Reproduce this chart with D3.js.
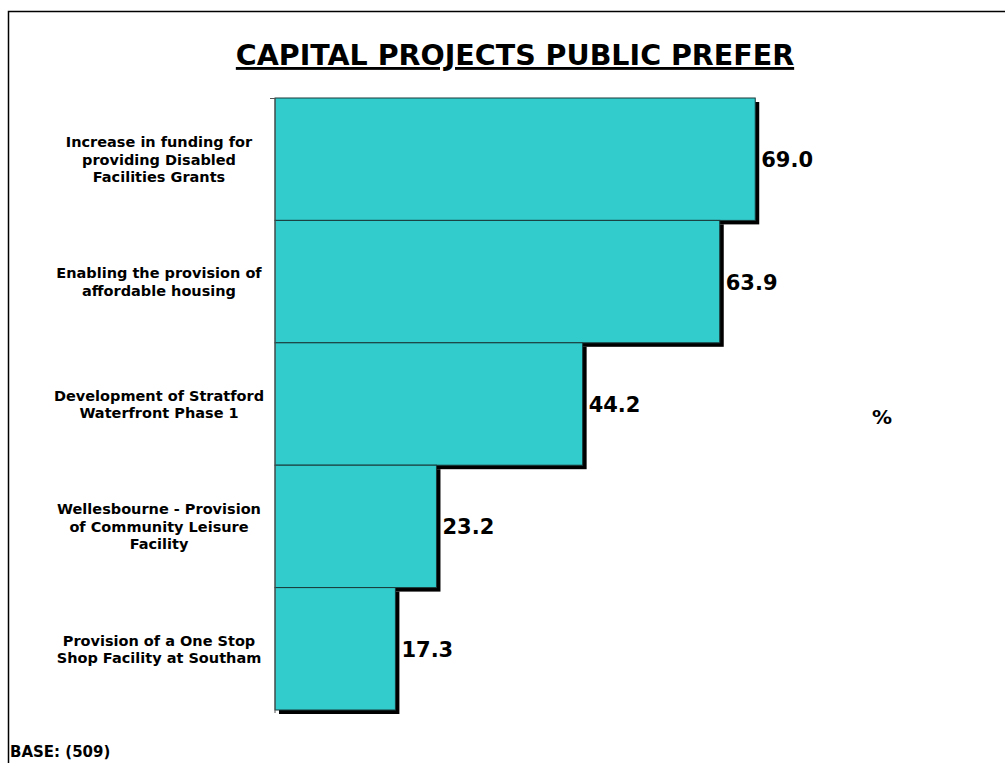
<!DOCTYPE html>
<html>
<head>
<meta charset="utf-8">
<script src="https://cdn.jsdelivr.net/npm/d3@7"></script>
<style>
  body { margin: 0; background: #fff; }
  text { font-family: "DejaVu Sans", Verdana, sans-serif; font-weight: bold; fill: #000; }
</style>
</head>
<body>
<div id="chart"></div>
<script>
// Data
const categories = [
  "Increase in funding for|providing Disabled|Facilities Grants",
  "Enabling the provision of|affordable housing",
  "Development of Stratford|Waterfront Phase 1",
  "Wellesbourne - Provision|of Community Leisure|Facility",
  "Provision of a One Stop|Shop Facility at Southam"
];
const values = [69.0, 63.9, 44.2, 23.2, 17.3];
const titleText = "CAPITAL PROJECTS PUBLIC PREFER";
const baseText = "BASE: (509)";
const unitText = "%";

const width = 1005, height = 763;

const svg = d3
  .select("#chart")
  .append("svg")
  .attr("width", width)
  .attr("height", height);

// Outer frame (runs off the right and bottom edges)
svg
  .append("rect")
  .attr("x", 8.5)
  .attr("y", 11.5)
  .attr("width", 1100)
  .attr("height", 900)
  .attr("fill", "none")
  .attr("stroke", "#000")
  .attr("stroke-width", 1.5);

// Scales
const x = d3.scaleLinear().domain([0, 100]).range([275, 971]);
const y = d3
  .scaleBand()
  .domain(categories)
  .range([98, 710])
  .padding(0);

// Title
svg
  .append("text")
  .attr("x", 515)
  .attr("y", 65)
  .attr("text-anchor", "middle")
  .style("font-size", "28.5px")
  .style("text-decoration", "underline")
  .text(titleText);

// Shadows
svg
  .selectAll(".shadow")
  .data(values)
  .enter()
  .append("rect")
  .attr("class", "shadow")
  .attr("x", x(0) + 4)
  .attr("y", (d, i) => y(categories[i]) + 4)
  .attr("width", (d) => x(d) - x(0))
  .attr("height", y.bandwidth())
  .attr("fill", "#000");

// Bars
svg
  .selectAll(".bar")
  .data(values)
  .enter()
  .append("rect")
  .attr("class", "bar")
  .attr("x", x(0))
  .attr("y", (d, i) => y(categories[i]))
  .attr("width", (d) => x(d) - x(0))
  .attr("height", y.bandwidth())
  .attr("fill", "#33CCCC")
  .attr("stroke", "#1a3a3a")
  .attr("stroke-width", 1);

// Category axis line with top tick
const [y0, y1] = y.range();
svg
  .append("line")
  .attr("x1", x(0))
  .attr("x2", x(0))
  .attr("y1", y0)
  .attr("y2", y1 + 3)
  .attr("stroke", "#555")
  .attr("stroke-width", 1);
svg
  .append("line")
  .attr("x1", x(0) - 5)
  .attr("x2", x(0))
  .attr("y1", y0 + 0.5)
  .attr("y2", y0 + 0.5)
  .attr("stroke", "#555")
  .attr("stroke-width", 1);

// Category labels
const lineH = 17.5;
categories.forEach((c) => {
  const lines = c.split("|");
  const cy = y(c) + y.bandwidth() / 2;
  const t = svg
    .append("text")
    .attr("text-anchor", "middle")
    .style("font-size", "14.5px");
  lines.forEach((ln, j) => {
    t.append("tspan")
      .attr("x", 159)
      .attr("y", cy + (j - (lines.length - 1) / 2) * lineH + 5.5)
      .text(ln);
  });
});

// Value labels
svg
  .selectAll(".val")
  .data(values)
  .enter()
  .append("text")
  .attr("class", "val")
  .attr("x", (d) => x(d) + 6)
  .attr("y", (d, i) => y(categories[i]) + y.bandwidth() / 2 + 8)
  .style("font-size", "21px")
  .text((d) => d.toFixed(1));

// Unit label
svg
  .append("text")
  .attr("x", 882)
  .attr("y", 424)
  .attr("text-anchor", "middle")
  .style("font-size", "20px")
  .text(unitText);

// Base
svg
  .append("text")
  .attr("x", 10)
  .attr("y", 757)
  .style("font-size", "15px")
  .text(baseText);
</script>
</body>
</html>
